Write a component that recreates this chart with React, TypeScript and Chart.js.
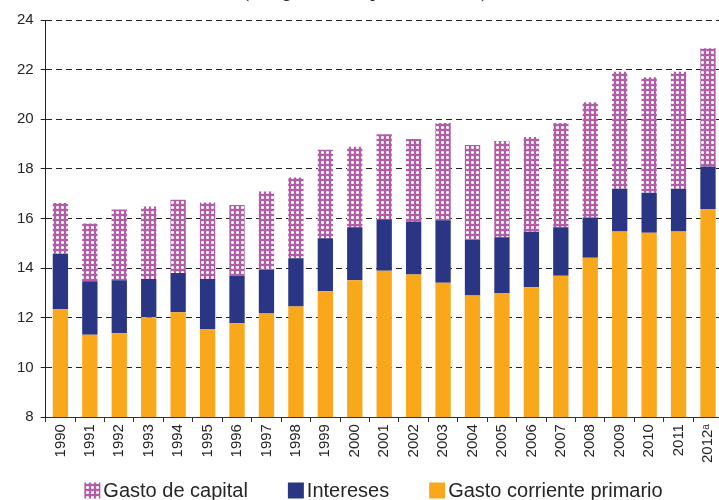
import { useEffect, useRef } from "react";
import { Chart, registerables } from "chart.js";

Chart.register(...registerables);

// ---- Data ----
const years = [
  "1990", "1991", "1992", "1993", "1994", "1995", "1996", "1997", "1998", "1999",
  "2000", "2001", "2002", "2003", "2004", "2005", "2006", "2007", "2008", "2009",
  "2010", "2011", "2012ᵃ",
];
const gastoCorrientePrimario = [
  12.34, 11.32, 11.38, 12.02, 12.22, 11.55, 11.78, 12.17, 12.45, 13.07,
  13.51, 13.9, 13.74, 13.41, 12.9, 13.0, 13.23, 13.69, 14.42, 15.48,
  15.43, 15.48, 16.38,
];
const intereses = [
  2.24, 2.15, 2.13, 1.54, 1.58, 2.01, 1.91, 1.78, 1.95, 2.14,
  2.14, 2.07, 2.14, 2.52, 2.24, 2.25, 2.24, 1.96, 1.62, 1.72,
  1.61, 1.72, 1.72,
];
const gastoCapital = [
  2.05, 2.33, 2.85, 2.92, 2.96, 3.09, 2.86, 3.14, 3.25, 3.56,
  3.24, 3.43, 3.32, 3.92, 3.82, 3.87, 3.82, 4.2, 4.65, 4.71,
  4.65, 4.71, 4.76,
];
const yMin = 8;
const yMax = 24;
const yStep = 2;
const titleText = "(En porcentajes del PIB)";
const legendLabels = ["Gasto de capital", "Intereses", "Gasto corriente primario"];

// ---- Styles ----
const ORANGE = "#F9A71B";
const NAVY = "#2A3583";
const MAGENTA = "#B35CA7";
const TEXT = "#262626";
const FONT = "'Liberation Sans', Arial, sans-serif";

function makePattern(): CanvasPattern | string {
  const c = document.createElement("canvas");
  c.width = 5;
  c.height = 5;
  const g = c.getContext("2d");
  if (!g) return MAGENTA;
  g.fillStyle = MAGENTA;
  g.fillRect(0, 0, 5, 5);
  g.fillStyle = "#ffffff";
  g.fillRect(1, 1, 3, 3);
  g.fillStyle = "#e6c3e0";
  g.fillRect(1, 1, 1, 1);
  g.fillRect(3, 1, 1, 1);
  g.fillRect(1, 3, 1, 1);
  g.fillRect(3, 3, 1, 1);
  const p = g.createPattern(c, "repeat");
  return p || MAGENTA;
}

export default function App() {
  const canvasRef = useRef<HTMLCanvasElement | null>(null);

  useEffect(() => {
    const canvas = canvasRef.current;
    if (!canvas) return;
    const pattern = makePattern();
    const fills = [pattern, NAVY, ORANGE];

    const overlayPlugin = {
      id: "overlay",
      afterDraw(chart: any) {
        const ctx = chart.ctx as CanvasRenderingContext2D;
        ctx.save();
        // Title (mostly cut off at top)
        ctx.font = "italic 25px 'Liberation Serif', 'Times New Roman', serif";
        ctx.fillStyle = TEXT;
        ctx.textAlign = "center";
        ctx.textBaseline = "alphabetic";
        ctx.fillText(titleText, 367, -4);

        // Legend
        ctx.font = `20px ${FONT}`;
        ctx.textAlign = "left";
        ctx.textBaseline = "middle";
        const box = 16;
        const gapText = 3;
        const gapItem = 40;
        const widths = legendLabels.map((l) => ctx.measureText(l).width);
        const total =
          widths.reduce((a, b) => a + b, 0) +
          legendLabels.length * (box + gapText) +
          (legendLabels.length - 1) * gapItem;
        let x = 373.5 - total / 2;
        const cy = chart.height - 9.5;
        legendLabels.forEach((label, i) => {
          ctx.fillStyle = fills[i] as any;
          ctx.fillRect(x, cy - box / 2, box, box);
          ctx.fillStyle = TEXT;
          ctx.fillText(label, x + box + gapText, cy + 1);
          x += box + gapText + widths[i] + gapItem;
        });
        ctx.restore();
      },
    };

    const chart = new Chart(canvas, {
      type: "bar",
      data: {
        labels: years,
        datasets: [
          {
            label: "Gasto corriente primario",
            data: gastoCorrientePrimario,
            backgroundColor: ORANGE,
            borderWidth: 0,
          },
          {
            label: "Intereses",
            data: intereses,
            backgroundColor: NAVY,
            borderWidth: 0,
          },
          {
            label: "Gasto de capital",
            data: gastoCapital,
            backgroundColor: pattern as any,
            borderWidth: 0,
          },
        ],
      },
      options: {
        animation: false,
        responsive: true,
        maintainAspectRatio: false,
        layout: { padding: { top: 20, left: 10, right: 0, bottom: 35 } },
        datasets: {
          bar: { categoryPercentage: 1, barPercentage: 0.52 },
        },
        plugins: {
          legend: { display: false },
          title: { display: false },
          tooltip: { enabled: false },
        },
        scales: {
          x: {
            stacked: true,
            offset: true,
            grid: {
              display: true,
              drawOnChartArea: false,
              drawTicks: true,
              tickLength: 5,
              color: "#333333",
              offset: true,
            },
            border: { display: true, color: "#333333", width: 1 },
            ticks: {
              color: TEXT,
              font: { family: FONT, size: 15 },
              minRotation: 90,
              maxRotation: 90,
              padding: 2,
              autoSkip: false,
            },
          },
          y: {
            stacked: true,
            min: yMin,
            max: yMax,
            grid: {
              display: true,
              color: "#222222",
              lineWidth: 1,
              tickLength: 5,
            },
            border: { display: true, color: "#222222", width: 1, dash: [6, 4] },
            ticks: {
              stepSize: yStep,
              color: TEXT,
              font: { family: FONT, size: 15 },
              padding: 7,
            },
          },
        },
      },
      plugins: [overlayPlugin],
    });
    return () => chart.destroy();
  }, []);

  return (
    <div
      style={{
        position: "fixed",
        left: 0,
        top: 0,
        width: 719,
        height: 500,
        overflow: "hidden",
        background: "#ffffff",
      }}
    >
      <div style={{ position: "absolute", left: 0, top: 0, width: 728, height: 500 }}>
        <canvas ref={canvasRef} />
      </div>
    </div>
  );
}
